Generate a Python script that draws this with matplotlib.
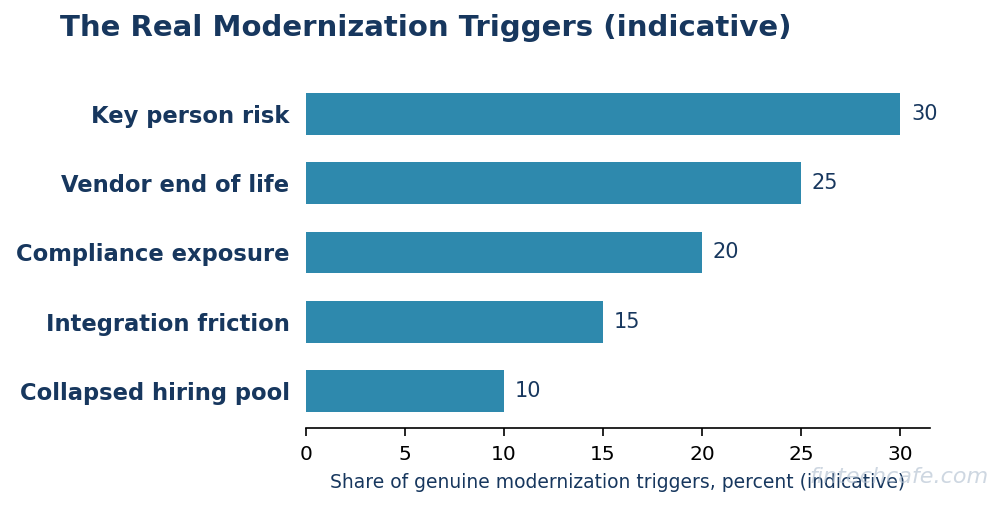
import numpy as np
import matplotlib.pyplot as plt

# данные
categories = ['Collapsed hiring pool', 'Integration friction', 'Compliance exposure',
              'Vendor end of life', 'Key person risk']
values = [10, 15, 20, 25, 30]

navy = '#17375e'
bar_color = '#2e89ad'

fig = plt.figure(figsize=(10.04, 5.05), dpi=100)
ax = fig.add_axes([0.305, 0.1525, 0.621, 0.695])

y = np.arange(len(categories))
ax.barh(y, values, height=0.6, color=bar_color)

for yi, v in zip(y, values):
    ax.text(v + 0.55, yi, f'{v}', va='center', ha='left', fontsize=15, color=navy)

ax.set_yticks(y)
ax.set_yticklabels(categories, fontsize=16.3, fontweight='bold', color=navy)
ax.tick_params(axis='y', length=0, pad=12)
ax.tick_params(axis='x', labelsize=14.5, length=6, width=1.2, pad=6)
ax.set_xlim(0, 31.5)
ax.set_xticks([0, 5, 10, 15, 20, 25, 30])

for s in ['top', 'right', 'left']:
    ax.spines[s].set_visible(False)
ax.spines['bottom'].set_linewidth(1.2)

ax.set_xlabel('Share of genuine modernization triggers, percent (indicative)',
              fontsize=13.5, color=navy, labelpad=7)

fig.text(0.06, 0.945, 'The Real Modernization Triggers (indicative)',
         fontsize=21, fontweight='bold', color=navy, ha='left', va='center')

# водяной знак
fig.text(0.985, 0.055, 'fintechcafe.com', fontsize=16, color='#b4c2d2', alpha=0.65,
         ha='right', va='center', style='italic')

fig.savefig('out.png', dpi=100)
